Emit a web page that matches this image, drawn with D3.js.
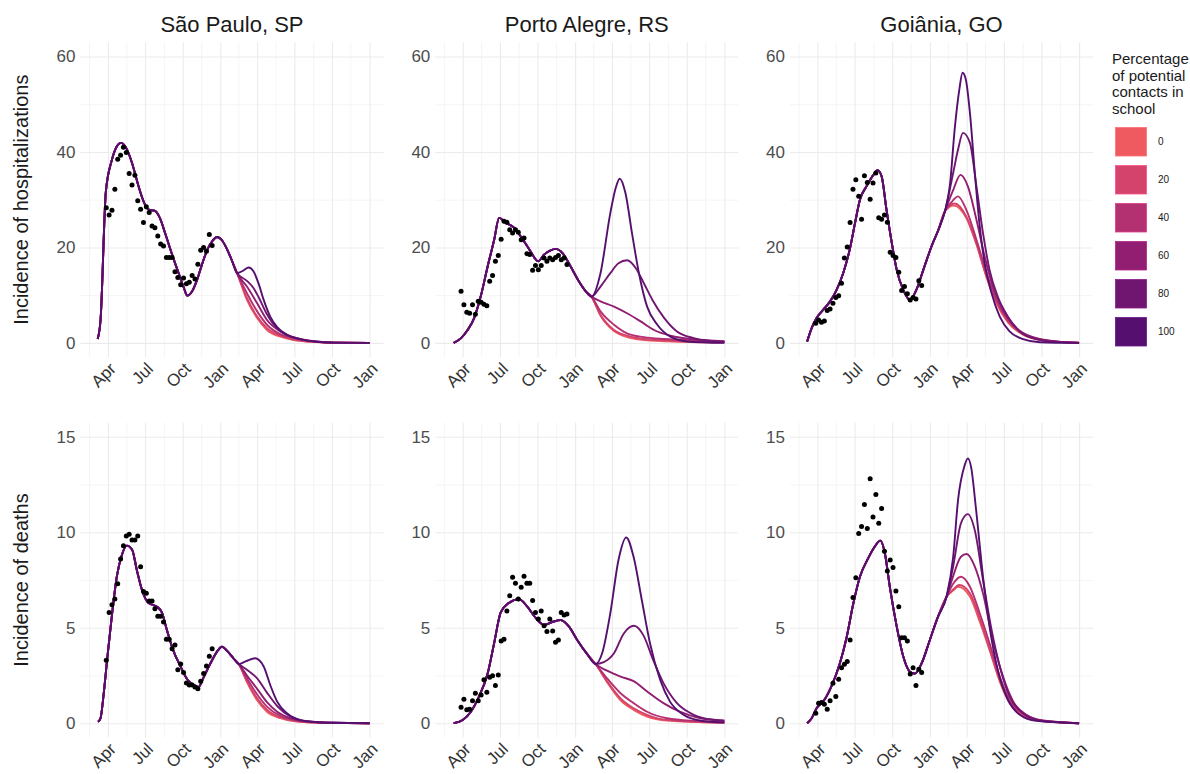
<!DOCTYPE html>
<html>
<head>
<meta charset="utf-8">
<script src="https://cdn.jsdelivr.net/npm/d3@7"></script>
<style>
  body { margin: 0; background: #fff; }
  text { font-family: "Liberation Sans", Arial, sans-serif; }
</style>
</head>
<body>
<svg id="chart" width="1190" height="774"></svg>
<script>
// ---- data ----
var cities = ["São Paulo, SP", "Porto Alegre, RS", "Goiânia, GO"];
var rowTitles = ["Incidence of hospitalizations", "Incidence of deaths"];
var schoolPct = ["0", "20", "40", "60", "80", "100"];
var schoolColors = ["#EE5A60", "#D3436B", "#B33071", "#921E71", "#711670", "#55106F"];

var xMajor = ["2020-04-01","2020-07-01","2020-10-01","2021-01-01","2021-04-01","2021-07-01","2021-10-01","2022-01-01"];
var xMinor = ["2020-02-15","2020-05-16","2020-08-16","2020-11-15","2021-02-14","2021-05-16","2021-08-16","2021-11-15"];
var xTickLabels = ["Apr","Jul","Oct","Jan","Apr","Jul","Oct","Jan"];
var yTicksHosp = [0, 20, 40, 60], yMinorHosp = [10, 30, 50];
var yTicksDeath = [0, 5, 10, 15], yMinorDeath = [2.5, 7.5, 12.5];

// observed points are weekly, starting here
var obsStart = "2020-03-28";

// São Paulo
var spHospFit = [["2020-03-07",0.8],["2020-03-14",4.8],["2020-03-27",31.7],["2020-04-11",38.4],["2020-04-23",41.2],["2020-05-03",41.9],["2020-05-16",40.8],["2020-05-30",37.7],["2020-06-15",32.8],["2020-06-29",29.3],["2020-07-10",27.9],["2020-07-24",27.7],["2020-08-06",26.2],["2020-08-20",22.7],["2020-09-05",18.5],["2020-09-21",14.6],["2020-10-04",11.5],["2020-10-12",9.9],["2020-10-24",10.8],["2020-11-05",13.2],["2020-11-17",16.4],["2020-11-30",19.5],["2020-12-12",21.3],["2020-12-24",22.2],["2021-01-05",21.5],["2021-01-18",19.5],["2021-01-30",17.1],["2021-02-11",14.6]];
var spHospScen = [
  [["2021-03-07",9.0],["2021-04-01",5.2],["2021-04-25",2.7],["2021-05-28",1.3],["2021-06-29",0.6],["2021-08-25",0.15],["2021-10-05",0.03],["2022-01-01",0]],
  [["2021-03-07",9.4],["2021-04-01",5.5],["2021-04-25",3.1],["2021-05-28",1.5],["2021-06-29",0.7],["2021-08-25",0.17],["2021-10-05",0.04],["2022-01-01",0]],
  [["2021-03-07",10.4],["2021-04-01",6.6],["2021-04-25",3.8],["2021-05-28",1.8],["2021-06-29",1.0],["2021-08-25",0.25],["2021-10-05",0.05],["2022-01-01",0]],
  [["2021-03-07",11.8],["2021-04-01",8.3],["2021-04-25",4.8],["2021-05-28",2.4],["2021-06-29",1.2],["2021-08-25",0.3],["2021-10-05",0.06],["2022-01-01",0]],
  [["2021-03-07",13.0],["2021-03-23",11.5],["2021-04-05",9.5],["2021-04-25",6.0],["2021-05-20",3.0],["2021-06-13",1.6],["2021-07-15",0.8],["2021-08-25",0.2],["2021-10-05",0.05],["2022-01-01",0]],
  [["2021-02-27",15.2],["2021-03-11",15.8],["2021-03-23",15.0],["2021-04-05",12.3],["2021-04-17",9.0],["2021-05-03",5.5],["2021-05-20",3.3],["2021-06-13",1.7],["2021-07-15",0.8],["2021-08-25",0.25],["2021-10-05",0.06],["2022-01-01",0]]
];
var spHospObs = [28.3,26.8,27.8,32.2,38.5,39.3,41.0,39.9,35.5,33.1,35.1,29.8,28.0,25.2,28.5,27.3,24.5,24.1,22.4,20.7,20.3,17.9,17.9,17.9,14.9,13.7,12.2,13.6,12.4,12.7,14.1,13.4,16.5,19.4,20.0,19.2,22.7,20.4];

var spDeathFit = [["2020-03-08",0.07],["2020-03-14",0.26],["2020-03-22",1.6],["2020-03-30",3.3],["2020-04-07",4.9],["2020-04-23",7.7],["2020-05-05",8.8],["2020-05-17",9.3],["2020-05-30",9.1],["2020-06-11",8.0],["2020-06-23",7.0],["2020-07-09",6.3],["2020-07-30",6.1],["2020-08-11",5.8],["2020-08-23",4.9],["2020-09-08",3.8],["2020-09-25",3.0],["2020-10-12",2.3],["2020-10-28",2.0],["2020-11-09",1.9],["2020-11-21",2.4],["2020-12-07",3.1],["2020-12-24",3.75],["2021-01-05",4.0],["2021-01-17",3.8],["2021-02-02",3.4],["2021-02-15",3.1]];
var spDeathScen = [
  [["2021-03-07",2.15],["2021-04-01",1.2],["2021-04-25",0.6],["2021-05-28",0.26],["2021-06-29",0.11],["2021-08-25",0.03],["2022-01-01",0]],
  [["2021-03-07",2.2],["2021-04-01",1.3],["2021-04-25",0.7],["2021-05-28",0.3],["2021-06-29",0.13],["2021-08-25",0.03],["2022-01-01",0]],
  [["2021-03-07",2.35],["2021-04-01",1.5],["2021-04-25",0.87],["2021-05-28",0.38],["2021-06-29",0.17],["2021-08-25",0.04],["2022-01-01",0]],
  [["2021-03-07",2.5],["2021-04-01",1.8],["2021-04-25",1.1],["2021-05-20",0.6],["2021-06-21",0.26],["2021-08-01",0.08],["2021-10-05",0.02],["2022-01-01",0]],
  [["2021-03-07",2.8],["2021-04-01",2.35],["2021-04-25",1.6],["2021-05-20",0.9],["2021-06-21",0.35],["2021-08-01",0.1],["2021-10-05",0.02],["2022-01-01",0]],
  [["2021-03-05",3.25],["2021-03-27",3.4],["2021-04-17",2.97],["2021-05-03",2.0],["2021-05-20",1.13],["2021-06-13",0.52],["2021-07-15",0.17],["2021-08-25",0.05],["2021-10-05",0.02],["2022-01-01",0]]
];
var spDeathObs = [3.3,5.8,6.2,6.5,7.3,8.6,9.3,9.8,9.9,9.6,9.6,9.8,8.2,6.9,6.8,6.4,6.4,6.0,5.6,5.6,5.3,4.4,4.4,3.9,4.1,2.8,3.1,2.65,2.1,2.0,2.0,1.9,1.8,2.2,2.6,3.0,3.5,3.9];

// Porto Alegre
var paHospFit = [["2020-03-10",0],["2020-03-28",1.0],["2020-04-13",2.7],["2020-04-29",5.2],["2020-05-15",9.7],["2020-06-01",16],["2020-06-17",21.6],["2020-06-29",26.2],["2020-07-15",25.2],["2020-08-05",24.1],["2020-08-21",22.3],["2020-09-10",19.7],["2020-10-03",17.1],["2020-10-17",18.5],["2020-11-02",19.4],["2020-11-15",19.7],["2020-12-01",18.8],["2020-12-21",16.0],["2021-01-10",12.9],["2021-01-27",10.8],["2021-02-10",9.7]];
var paHospScen = [
  [["2021-03-04",5.7],["2021-04-06",2.5],["2021-05-08",1.2],["2021-06-18",0.6],["2021-08-15",0.35],["2022-01-01",0.07]],
  [["2021-03-04",5.9],["2021-04-06",2.7],["2021-05-08",1.5],["2021-06-18",0.8],["2021-08-15",0.5],["2022-01-01",0.2]],
  [["2021-03-04",6.6],["2021-04-06",3.8],["2021-05-08",2.0],["2021-06-18",1.2],["2021-08-07",0.8],["2021-10-26",0.5],["2022-01-01",0.3]],
  [["2021-03-04",8.7],["2021-04-06",7.6],["2021-05-08",6.2],["2021-06-10",4.5],["2021-07-13",2.7],["2021-08-22",1.5],["2021-10-10",0.8],["2022-01-01",0.35]],
  [["2021-03-04",11.8],["2021-03-28",14.6],["2021-04-17",16.7],["2021-05-08",17.3],["2021-05-29",15.7],["2021-06-18",12.5],["2021-07-09",9.0],["2021-08-07",5.2],["2021-09-07",2.4],["2021-10-18",1.0],["2021-12-06",0.35],["2022-01-01",0.15]],
  [["2021-03-04",14.6],["2021-03-28",27.2],["2021-04-10",32.4],["2021-04-20",34.4],["2021-05-04",31.4],["2021-05-20",23],["2021-06-06",14.6],["2021-06-26",7.6],["2021-07-21",3.8],["2021-08-22",1.3],["2021-10-02",0.3],["2022-01-01",0]]
];
var paHospObs = [10.8,8.0,6.4,6.2,8.0,6.0,8.7,8.5,8.1,7.8,12.9,14.1,17.1,18.3,21.7,25.5,25.3,23.7,23.0,23.7,23.2,21.6,22.0,18.7,18.5,15.2,16.2,15.3,16.2,17.8,17.1,17.8,17.4,17.9,18.3,17.4,17.8,16.4];

var paDeathFit = [["2020-03-10",0],["2020-04-01",0.17],["2020-04-21",0.6],["2020-05-11",1.4],["2020-06-01",2.6],["2020-06-17",4.2],["2020-07-03",5.8],["2020-07-23",6.3],["2020-08-17",6.5],["2020-09-06",6.1],["2020-09-27",5.5],["2020-10-17",5.15],["2020-11-06",5.3],["2020-11-27",5.4],["2020-12-17",5.06],["2021-01-06",4.36],["2021-01-31",3.6],["2021-02-20",3.1]];
var paDeathScen = [
  [["2021-03-20",2.15],["2021-04-22",1.2],["2021-05-24",0.7],["2021-06-26",0.35],["2021-08-14",0.14],["2022-01-01",0.02]],
  [["2021-03-20",2.2],["2021-04-22",1.3],["2021-05-24",0.78],["2021-06-26",0.44],["2021-08-14",0.17],["2022-01-01",0.03]],
  [["2021-03-20",2.35],["2021-04-22",1.57],["2021-05-24",1.05],["2021-06-26",0.6],["2021-08-14",0.26],["2021-10-20",0.12],["2022-01-01",0.07]],
  [["2021-03-20",2.75],["2021-04-22",2.44],["2021-05-24",2.2],["2021-06-26",1.66],["2021-08-05",1.05],["2021-09-14",0.6],["2021-11-03",0.26],["2022-01-01",0.14]],
  [["2021-03-12",3.2],["2021-04-06",3.66],["2021-04-30",4.7],["2021-05-25",5.1],["2021-06-17",4.6],["2021-07-11",3.3],["2021-08-05",2.1],["2021-09-07",1.05],["2021-10-18",0.44],["2021-12-06",0.17],["2022-01-01",0.12]],
  [["2021-03-08",3.66],["2021-03-28",5.76],["2021-04-17",8.55],["2021-05-06",9.73],["2021-05-24",8.7],["2021-06-13",6.45],["2021-07-03",4.19],["2021-07-28",2.27],["2021-08-21",1.13],["2021-09-23",0.44],["2021-11-01",0.14],["2022-01-01",0.03]]
];
var paDeathObs = [0.84,1.26,0.7,0.73,1.17,1.57,1.17,1.48,2.27,1.62,2.4,2.48,1.97,2.53,4.3,4.4,5.88,6.68,7.64,7.33,6.5,7.12,7.7,7.33,7.33,6.42,5.8,5.46,5.88,5.1,4.8,5.46,4.83,4.24,4.36,5.8,5.67,5.72];

// Goiânia
var goHospFit = [["2020-03-07",0.3],["2020-03-18",3.1],["2020-03-30",5.2],["2020-04-15",6.9],["2020-05-02",8.7],["2020-05-18",11.1],["2020-06-03",14.6],["2020-06-20",19.9],["2020-07-02",25.1],["2020-07-14",30],["2020-07-30",32.8],["2020-08-16",35.2],["2020-08-26",36.2],["2020-09-05",34.9],["2020-09-17",27.9],["2020-09-30",20.9],["2020-10-12",15.3],["2020-10-28",11.1],["2020-11-13",9.0],["2020-11-29",11.1],["2020-12-16",15.3],["2021-01-05",20.2],["2021-01-22",23.7],["2021-02-07",27.6]];
var goHospScen = [
  [["2021-03-01",28.8],["2021-03-31",26.2],["2021-04-25",20.6],["2021-05-20",13.6],["2021-06-13",8.3],["2021-07-11",4.3],["2021-08-17",1.7],["2021-10-05",0.5],["2021-12-01",0.1],["2022-01-01",0.03]],
  [["2021-03-03",29.2],["2021-03-31",26.5],["2021-04-25",20.9],["2021-05-20",13.9],["2021-06-13",8.7],["2021-07-11",4.5],["2021-08-17",1.8],["2021-10-05",0.56],["2021-12-01",0.12],["2022-01-01",0.04]],
  [["2021-02-23",29.5],["2021-03-11",30.7],["2021-03-31",27.9],["2021-04-25",21.6],["2021-05-20",14.6],["2021-06-13",9.0],["2021-07-11",4.8],["2021-08-17",2.0],["2021-10-05",0.6],["2021-12-01",0.14],["2022-01-01",0.05]],
  [["2021-02-27",32],["2021-03-17",35.2],["2021-04-04",32.8],["2021-04-25",25.8],["2021-05-15",18.1],["2021-06-04",11.8],["2021-06-29",6.9],["2021-08-01",3.1],["2021-09-10",1.2],["2021-11-06",0.3],["2022-01-01",0]],
  [["2021-02-27",35.6],["2021-03-11",40.5],["2021-03-23",44],["2021-04-09",41.9],["2021-04-25",32.8],["2021-05-11",23],["2021-05-27",15.3],["2021-06-16",9.7],["2021-07-11",5.5],["2021-08-09",2.4],["2021-09-18",0.8],["2021-11-06",0.2],["2022-01-01",0]],
  [["2021-02-19",33],["2021-03-03",45],["2021-03-14",53],["2021-03-22",56.6],["2021-03-30",55.2],["2021-04-09",48.2],["2021-04-21",35.6],["2021-05-03",24.4],["2021-05-15",16.7],["2021-06-01",10.4],["2021-06-21",5.5],["2021-07-15",2.4],["2021-08-17",0.8],["2021-09-27",0.14],["2022-01-01",0]]
];
var goHospObs = [4.1,4.8,4.3,4.6,6.8,7.1,8.3,9.5,9.9,12.5,17.8,20.1,25.2,32.2,34.2,30.7,25.9,35.0,33.6,30.1,33.5,35.6,26.2,25.9,26.8,25.3,19.0,18.3,17.9,14.8,11.0,11.8,10.3,9.0,9.5,9.2,13.0,12.0];

var goDeathFit = [["2020-03-07",0],["2020-03-18",0.26],["2020-03-30",0.78],["2020-04-15",1.13],["2020-05-05",1.92],["2020-05-26",3.14],["2020-06-11",4.45],["2020-06-28",6.28],["2020-07-14",7.67],["2020-08-03",8.63],["2020-08-19",9.24],["2020-09-02",9.56],["2020-09-13",8.9],["2020-09-25",7.15],["2020-10-12",5.06],["2020-10-28",3.49],["2020-11-13",2.7],["2020-11-25",2.6],["2020-12-12",3.14],["2021-01-01",4.36],["2021-01-21",5.58],["2021-02-11",6.63]];
var goDeathScen = [
  [["2021-02-27",6.95],["2021-03-11",7.15],["2021-04-09",6.63],["2021-05-03",5.32],["2021-05-27",3.84],["2021-06-21",2.18],["2021-07-15",1.05],["2021-08-17",0.38],["2021-10-05",0.1],["2022-01-01",0]],
  [["2021-02-27",7.0],["2021-03-14",7.24],["2021-04-09",6.8],["2021-05-03",5.5],["2021-05-27",3.9],["2021-06-21",2.27],["2021-07-15",1.13],["2021-08-17",0.44],["2021-10-05",0.12],["2022-01-01",0]],
  [["2021-02-27",7.3],["2021-03-18",7.67],["2021-04-09",7.15],["2021-05-03",5.76],["2021-05-27",4.19],["2021-06-21",2.44],["2021-07-15",1.22],["2021-08-17",0.52],["2021-10-05",0.14],["2022-01-01",0]],
  [["2021-02-27",7.7],["2021-03-18",8.72],["2021-04-01",8.86],["2021-04-21",8.2],["2021-05-11",6.8],["2021-06-04",4.36],["2021-06-29",2.44],["2021-07-24",1.13],["2021-08-25",0.44],["2021-10-13",0.09],["2022-01-01",0]],
  [["2021-02-27",8.2],["2021-03-18",10.47],["2021-04-04",10.95],["2021-04-21",10.1],["2021-05-11",7.5],["2021-06-01",4.88],["2021-06-21",2.97],["2021-07-15",1.4],["2021-08-17",0.52],["2021-09-27",0.14],["2022-01-01",0]],
  [["2021-02-27",8.7],["2021-03-11",11.7],["2021-03-27",13.5],["2021-04-04",13.87],["2021-04-12",13.4],["2021-04-24",11.2],["2021-05-11",7.67],["2021-05-27",5.06],["2021-06-16",2.8],["2021-07-11",1.22],["2021-08-09",0.44],["2021-09-18",0.12],["2022-01-01",0]]
];
var goDeathObs = [0.52,1.05,1.08,0.99,0.73,1.17,2.09,1.4,2.3,2.9,3.09,3.23,4.36,6.58,7.62,9.94,10.3,11.46,10.2,12.8,10.8,11.98,10.47,11.25,9.0,7.97,8.55,8.16,6.92,6.1,4.48,4.48,4.3,2.58,2.9,1.97,2.83,2.65];

// ---- layout ----
var parseDate = d3.timeParse("%Y-%m-%d");
var panelW = 303, panelH = 315;
var colX = [80.5, 435.3, 790];
var rowY = [42.2, 422.5];
var textColor = "#1A1A1A", tickColor = "#4D4D4D";

var svg = d3.select("#chart");

var x = d3.scaleTime()
    .domain([parseDate("2020-01-25"), parseDate("2022-02-04")])
    .range([0, panelW]);
var yRows = [
    d3.scaleLinear().domain([-3, 63]).range([panelH, 0]),
    d3.scaleLinear().domain([-0.75, 15.75]).range([panelH, 0])
];
var yMajor = [yTicksHosp, yTicksDeath];
var yMinor = [yMinorHosp, yMinorDeath];

var panels = [
    {col: 0, row: 0, fit: spHospFit, scen: spHospScen, obs: spHospObs},
    {col: 1, row: 0, fit: paHospFit, scen: paHospScen, obs: paHospObs},
    {col: 2, row: 0, fit: goHospFit, scen: goHospScen, obs: goHospObs},
    {col: 0, row: 1, fit: spDeathFit, scen: spDeathScen, obs: spDeathObs},
    {col: 1, row: 1, fit: paDeathFit, scen: paDeathScen, obs: paDeathObs},
    {col: 2, row: 1, fit: goDeathFit, scen: goDeathScen, obs: goDeathObs}
];

function toPoints(arr) {
    return arr.map(function(d) { return {date: parseDate(d[0]), v: d[1]}; });
}

panels.forEach(function(p) {
    var y = yRows[p.row];
    var g = svg.append("g")
        .attr("transform", "translate(" + colX[p.col] + "," + rowY[p.row] + ")");

    // grid, minor first then major
    function grid(axis, color, w) {
        var gg = g.append("g").call(axis);
        gg.select(".domain").remove();
        gg.selectAll("text").remove();
        gg.selectAll("line").attr("stroke", color).attr("stroke-width", w);
    }
    grid(d3.axisBottom(x).tickValues(xMinor.map(parseDate)).tickSize(panelH).tickFormat(""), "#F2F2F2", 0.8);
    grid(d3.axisRight(y).tickValues(yMinor[p.row]).tickSize(panelW).tickFormat(""), "#F2F2F2", 0.8);
    grid(d3.axisBottom(x).tickValues(xMajor.map(parseDate)).tickSize(panelH).tickFormat(""), "#EBEBEB", 1.1);
    grid(d3.axisRight(y).tickValues(yMajor[p.row]).tickSize(panelW).tickFormat(""), "#EBEBEB", 1.1);

    // x axis labels (rotated)
    var xa = g.append("g")
        .attr("transform", "translate(0," + panelH + ")")
        .call(d3.axisBottom(x).tickValues(xMajor.map(parseDate)).tickSize(0)
            .tickFormat(function(d, i) { return xTickLabels[i]; }));
    xa.select(".domain").remove();
    xa.attr("font-family", null).attr("font-size", null);
    xa.selectAll("text")
        .attr("x", 0).attr("y", 0).attr("dy", "0.72em")
        .attr("transform", "translate(0,4) rotate(-45)")
        .attr("text-anchor", "end")
        .attr("font-size", "17px")
        .attr("fill", "#333333");

    // y axis labels
    var ya = g.append("g")
        .call(d3.axisLeft(y).tickValues(yMajor[p.row]).tickSize(0).tickPadding(5));
    ya.select(".domain").remove();
    ya.attr("font-family", null).attr("font-size", null);
    ya.selectAll("text").attr("font-size", "17px").attr("fill", tickColor);

    // model lines, 0% first so 100% ends on top
    var line = d3.line()
        .x(function(d) { return x(d.date); })
        .y(function(d) { return y(d.v); })
        .curve(d3.curveMonotoneX);
    p.scen.forEach(function(s, i) {
        g.append("path")
            .datum(toPoints(p.fit.concat(s)))
            .attr("d", line)
            .attr("fill", "none")
            .attr("stroke", schoolColors[i])
            .attr("stroke-width", 1.9)
            .attr("stroke-linejoin", "round");
    });

    // observed weekly points
    var t0 = parseDate(obsStart);
    g.selectAll("circle.obs")
        .data(p.obs)
        .enter()
        .append("circle")
        .attr("class", "obs")
        .attr("cx", function(d, i) { return x(d3.timeDay.offset(t0, 7 * i)); })
        .attr("cy", function(d) { return y(d); })
        .attr("r", 2.5)
        .attr("fill", "#000");

    // facet title on the top row
    if (p.row === 0) {
        g.append("text")
            .attr("x", panelW / 2)
            .attr("y", 32 - rowY[0])
            .attr("text-anchor", "middle")
            .attr("font-size", "22px")
            .attr("fill", textColor)
            .text(cities[p.col]);
    }
});

// row titles
rowTitles.forEach(function(t, i) {
    svg.append("text")
        .attr("transform", "translate(28," + (rowY[i] + panelH / 2) + ") rotate(-90)")
        .attr("text-anchor", "middle")
        .attr("font-size", "20px")
        .attr("fill", textColor)
        .text(t);
});

// legend
var legend = svg.append("g").attr("transform", "translate(1112,0)");
["Percentage", "of potential", "contacts in", "school"].forEach(function(s, i) {
    legend.append("text")
        .attr("x", 0)
        .attr("y", 64 + i * 16.5)
        .attr("font-size", "15px")
        .attr("fill", textColor)
        .text(s);
});
schoolPct.forEach(function(s, i) {
    legend.append("rect")
        .attr("x", 3.5)
        .attr("y", 127.5 + i * 38)
        .attr("width", 31)
        .attr("height", 28.5)
        .attr("fill", schoolColors[i])
        .attr("stroke", d3.color(schoolColors[i]).brighter(0.6))
        .attr("stroke-width", 0.8);
    legend.append("text")
        .attr("x", 46)
        .attr("y", 127.5 + i * 38 + 14.25)
        .attr("dy", "0.35em")
        .attr("font-size", "10px")
        .attr("fill", textColor)
        .text(s);
});
</script>
</body>
</html>
